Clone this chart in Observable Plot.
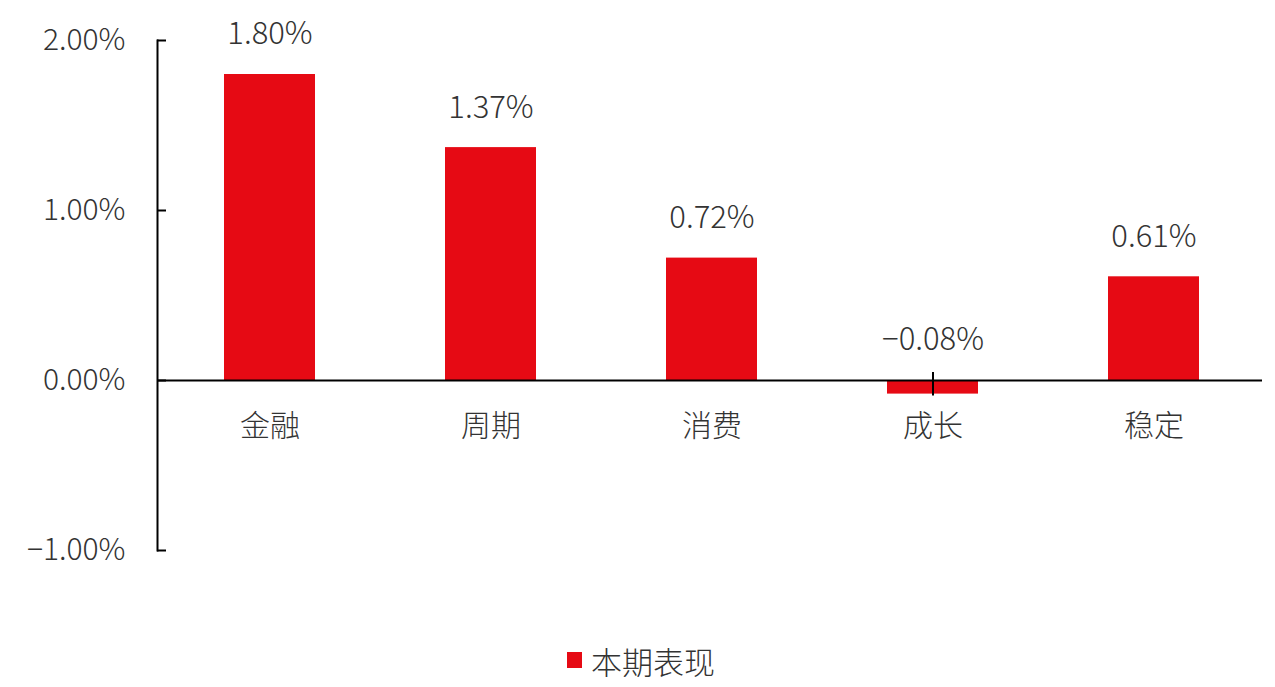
<!DOCTYPE html>
<html>
<head>
<meta charset="utf-8">
<script src="https://cdn.jsdelivr.net/npm/d3@7"></script>
<script src="https://cdn.jsdelivr.net/npm/@observablehq/plot@0.6"></script>
<style>
  html, body { margin: 0; padding: 0; background: #fff; }
  #chart svg { display: block; }
  .legend { display: flex; align-items: center; justify-content: center; height: 34px; margin-top: 3px;
    font-family: "Noto Sans CJK SC", sans-serif; font-weight: 300; font-size: 31px; color: #333; padding-left: 7px; }
  .legend .sw { width: 15px; height: 16px; background: #E60A14; margin-right: 9px; }
</style>
</head>
<body>
<div id="chart"></div>
<script>
const categories = ["金融", "周期", "消费", "成长", "稳定"];
const values = [1.80, 1.37, 0.72, -0.08, 0.61];
const yTicks = [-1, 0, 1, 2];
const seriesName = "本期表现";

const data = categories.map((c, i) => ({cat: c, v: values[i]}));
const font = "Noto Sans CJK SC, sans-serif";
const fmt = v => (v < 0 ? "\u2212" : "") + Math.abs(v).toFixed(2) + "%";

const chart = Plot.plot({
  width: 1275,
  height: 640,
  marginTop: 40,
  marginBottom: 90,
  marginLeft: 157,
  marginRight: 10,
  style: {fontFamily: font, fontSize: "30px", fontWeight: 300, color: "#333", background: "#fff"},
  x: {domain: categories, paddingInner: 0.59, paddingOuter: 0.295, axis: null},
  y: {domain: [-1, 2], axis: null},
  marks: [
    Plot.barY(data, {x: "cat", y: "v", fill: "#E60A14"}),
    Plot.axisY(yTicks, {anchor: "left", label: null, tickSize: 0, tickPadding: 32, tickFormat: fmt, fontSize: 30, fill: "#333"}),
    Plot.axisY(yTicks, {anchor: "left", label: null, tickSize: -9, text: null, stroke: "#000", strokeWidth: 2}),
    Plot.frame({anchor: "left", stroke: "#000", strokeWidth: 2}),
    Plot.ruleY([0], {stroke: "#000", strokeWidth: 2, insetRight: 3}),
    Plot.ruleX(data.filter(d => d.v < 0), {x: "cat", y1: 0, y2: "v", insetTop: -8, insetBottom: -2, stroke: "#000", strokeWidth: 2}),
    Plot.text(data, {x: "cat", y: d => Math.max(d.v, 0), dy: -40, text: d => fmt(d.v), fontSize: 31, fill: "#333"}),
    Plot.text(data, {x: "cat", y: 0, dy: 46, text: "cat", fontSize: 30, fill: "#333"})
  ]
});
document.getElementById("chart").appendChild(chart);
const lg = document.createElement("div");
lg.className = "legend";
lg.innerHTML = `<span class="sw"></span><span>${seriesName}</span>`;
document.body.appendChild(lg);
</script>
</body>
</html>
